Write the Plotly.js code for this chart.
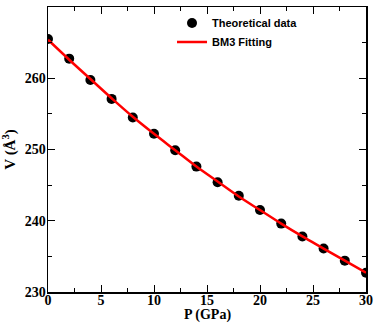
<!DOCTYPE html>
<html>
<head>
<meta charset="utf-8">
<script src="https://cdn.plot.ly/plotly-3.0.1.min.js"></script>
<style>
  html, body { margin: 0; padding: 0; background: #fff; }
  #chart { width: 374px; height: 324px; }
</style>
</head>
<body>
<div id="chart"></div>
<script>
// pressure (GPa) and cell volume (A^3)
const pressure = [0, 2, 4, 6, 8, 10, 12, 14, 16, 18, 20, 22, 24, 26, 28, 30];
const volume = [265.5, 262.75, 259.75, 257.1, 254.5, 252.2, 249.9, 247.6,
                245.4, 243.5, 241.5, 239.6, 237.8, 236.1, 234.4, 232.7];
const fitVolume = [265.4, 262.6, 259.9, 257.2, 254.6, 252.2, 249.9, 247.6,
                   245.5, 243.4, 241.5, 239.6, 237.8, 236.1, 234.4, 232.7];

const xTicks = [0, 5, 10, 15, 20, 25, 30];
const yTicks = [230, 240, 250, 260, 270];

const serif = "Liberation Serif";

const fitTrace = {
  x: pressure,
  y: fitVolume,
  mode: "lines",
  type: "scatter",
  name: "<b>BM3 Fitting</b>",
  line: { color: "#ff0000", width: 2.5, shape: "spline" },
};

const dataTrace = {
  x: pressure,
  y: volume,
  mode: "markers",
  type: "scatter",
  name: "<b>Theoretical data</b>",
  marker: { size: 10, color: "#000000" },
};

const axisBase = {
  showgrid: false,
  zeroline: false,
  showline: true,
  mirror: "ticks",
  linecolor: "#000",
  linewidth: 1.5,
  ticks: "inside",
  ticklen: 7,
  tickcolor: "#000",
  tickwidth: 1,
  tickmode: "array",
  tickfont: { family: serif, size: 14, color: "#000" },
};

const layout = {
  width: 374,
  height: 324,
  margin: { l: 48, r: 8, t: 7, b: 32 },
  paper_bgcolor: "#fff",
  plot_bgcolor: "#fff",
  showlegend: true,
  legend: {
    x: 0.39, y: 0.995, xanchor: "left", yanchor: "top",
    bgcolor: "rgba(0,0,0,0)",
    font: { family: "Liberation Sans", size: 11, color: "#000" },
    tracegroupgap: 0,
    traceorder: "normal",
  },
  xaxis: Object.assign({}, axisBase, {
    range: [0, 30],
    tickvals: xTicks,
    ticktext: xTicks.map((t) => "<b>" + t + "</b>"),
    ticklabelposition: "outside",
    ticklabelstandoff: -5,
    minor: { dtick: 2.5, tick0: 0, ticks: "inside", ticklen: 4, tickcolor: "#000" },
  }),
  yaxis: Object.assign({}, axisBase, {
    range: [230, 270],
    tickvals: yTicks,
    ticktext: yTicks.map((t) => "<b>" + t + "</b>"),
    ticklabelposition: "outside",
    ticklabelstandoff: -2,
    minor: { dtick: 5, tick0: 230, ticks: "inside", ticklen: 4, tickcolor: "#000" },
    title: {
      text: "<b>V (Å<sup>3</sup>)</b>",
      font: { family: serif, size: 15, color: "#000" },
      standoff: 6,
    },
  }),
  annotations: [{
    text: "<b>P (GPa)</b>",
    xref: "paper", yref: "paper",
    x: 0.5, y: -0.1123,
    xanchor: "center", yanchor: "bottom",
    borderpad: 0,
    showarrow: false,
    font: { family: serif, size: 14, color: "#000" },
  }],
};

Plotly.newPlot("chart", [dataTrace, fitTrace], layout, { displayModeBar: false, staticPlot: true });
</script>
</body>
</html>
